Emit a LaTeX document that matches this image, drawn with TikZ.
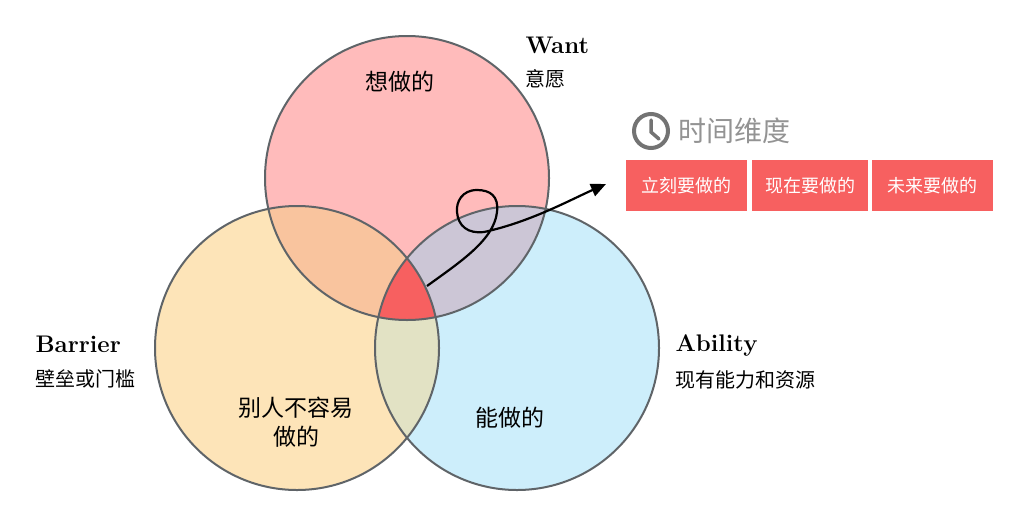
\documentclass[tikz,border=0pt]{standalone}
\usepackage{fontspec}
\newfontfamily\cjk{Noto Sans CJK SC}
\usetikzlibrary{arrows.meta}
\definecolor{wantc}{HTML}{FFBBBB}
\definecolor{barc}{HTML}{FDE4B8}
\definecolor{abc}{HTML}{CDEEFB}
\definecolor{wb}{HTML}{F9C49E}
\definecolor{wa}{HTML}{CCC6D6}
\definecolor{ba}{HTML}{E2E2C4}
\definecolor{ctr}{HTML}{F76060}
\definecolor{edge}{HTML}{5F6468}
\tikzset{ring/.style={draw=edge,line width=2pt},
 lab/.style={font=\cjk\fontsize{23}{29}\selectfont,align=center},
 en/.style={font=\bfseries\fontsize{24}{28}\selectfont,anchor=west},
 sub/.style={font=\cjk\fontsize{20}{24}\selectfont,anchor=west},
 box/.style={fill=ctr,text=white,minimum height=51pt,font=\cjk\fontsize{18}{22}\selectfont}}
\begin{document}
\begin{tikzpicture}[x=1pt,y=-1pt]
\useasboundingbox (0,0) rectangle (1024,528);
\def\W{(407,178) circle (142)}
\def\B{(297,348) circle (142)}
\def\A{(517,348) circle (142)}
\fill[wantc] \W; \fill[barc] \B; \fill[abc] \A;
\begin{scope}\clip \W; \fill[wb] \B; \fill[wa] \A; \end{scope}
\begin{scope}\clip \B; \fill[ba] \A; \clip \W; \fill[ctr] \A; \end{scope}
\draw[ring] \W; \draw[ring] \B; \draw[ring] \A;
\node[lab] (t1) at (400,82) {想做的};
\node[lab] (t2) at (296,422) {别人不容易\\做的};
\node[lab] (t3) at (510,418) {能做的};
\node[en] (want) at (522,45) {Want};
\node[sub] (wants) at (522,79) {意愿};
\node[en] (bar) at (32,344) {Barrier};
\node[sub] (bars) at (32,379) {壁垒或门槛};
\node[en] (abl) at (672,345) {Ability};
\node[sub] (abls) at (672,380) {现有能力和资源};
\coordinate (s) at (427,286);
\coordinate (e) at (606,184);
\draw[line width=2.2pt,-{Triangle[length=15pt,width=13pt]}] (s) .. controls (460,262) and (494,240) .. (497,212)
 .. controls (499,196) and (490,190) .. (477,190) .. controls (462,190) and (456,202) .. (457,212)
 .. controls (458,226) and (468,234) .. (484,232)
 .. controls (530,222) and (570,200) .. (e);
\node[box,minimum width=121pt] (b1) at (686.5,185.5) {立刻要做的};
\node[box,minimum width=116pt] (b2) at (810,185.5) {现在要做的};
\node[box,minimum width=121pt] (b3) at (932.5,185.5) {未来要做的};
\node[circle,draw=gray!90!black,line width=4pt,minimum size=34pt,inner sep=0pt] (clk) at (651,131) {};
\draw[gray!90!black,line width=3.5pt,line cap=round] (651,120) -- (651,132) -- (659,139);
\node[font=\cjk\fontsize{28}{32}\selectfont,text=gray!85,anchor=west] (tt) at (675,131) {时间维度};
\end{tikzpicture}
\end{document}
